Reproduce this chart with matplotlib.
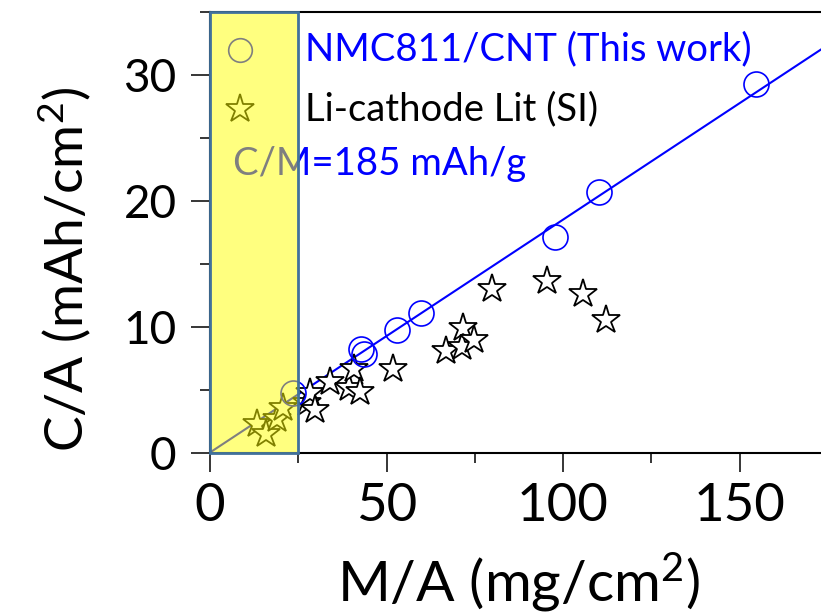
import matplotlib
matplotlib.use("Agg")
import matplotlib.pyplot as plt
from matplotlib.patches import Rectangle
from matplotlib.ticker import MultipleLocator
import numpy as np

plt.rcParams["font.family"] = ["Lato", "DejaVu Sans"]
plt.rcParams["mathtext.fontset"] = "custom"
plt.rcParams["mathtext.rm"] = "Lato"
plt.rcParams["mathtext.it"] = "Lato"
plt.rcParams["mathtext.default"] = "regular"

# NMC811/CNT electrodes (this work)
nmc_x = [23.5, 42.8, 43.5, 52.9, 59.7, 97.7, 110.2, 154.7]
nmc_y = [4.7, 8.2, 7.8, 9.7, 11.1, 17.1, 20.7, 29.3]

# Li-ion cathodes reported in the literature
lit_x = [13.2, 16.0, 18.9, 20.8, 27.4, 28.3, 29.7, 34.0, 39.5, 40.8,
         42.5, 51.7, 66.8, 71.3, 71.8, 74.8, 79.8, 95.6, 105.8, 112.2]
lit_y = [2.3, 1.5, 2.7, 3.5, 3.9, 4.7, 3.4, 5.6, 5.1, 6.65,
         4.8, 6.65, 8.1, 8.4, 9.9, 8.9, 13.0, 13.6, 12.6, 10.5]

# specific capacity of the fit line, mAh/g
specific_capacity = 185
fit_x = np.array([0.0, 175.0])

xlim = (0, 175)
ylim = (0, 35)
x_major, x_minor = 50, 25
y_major, y_minor = 10, 5
highlight_x = (0, 25)

label_nmc = "NMC811/CNT (This work)"
label_lit = "Li-cathode Lit (SI)"
label_fit = "C/M=185 mAh/g"

blue = "#0000FF"

fig = plt.figure(figsize=(8.21, 6.14), dpi=100)
ax = fig.add_axes([210 / 821, (614 - 452.5) / 614, 617.75 / 821, 440.5 / 614])

ax.plot(fit_x, fit_x * specific_capacity / 1000.0, color=blue, lw=1.5, zorder=2)
ax.plot(lit_x, lit_y, linestyle="none", marker="*", ms=21, mfc="white",
        mec="black", mew=1.3, zorder=3)
ax.plot(nmc_x, nmc_y, linestyle="none", marker="o", ms=18, mfc="none",
        mec=blue, mew=1.2, zorder=4)

# in-axes legend
ax.plot([8.5], [32.0], linestyle="none", marker="o", ms=17, mfc="none",
        mec=blue, mew=1.2, zorder=4, clip_on=False)
ax.plot([8.5], [27.3], linestyle="none", marker="*", ms=21, mfc="white",
        mec="black", mew=1.3, zorder=4, clip_on=False)
ax.text(27.0, 32.0, label_nmc, color=blue, fontsize=27.5, ha="left", va="center")
ax.text(27.0, 27.3, label_lit, color="black", fontsize=27.5, ha="left", va="center")
ax.text(6.5, 22.9, label_fit, color=blue, fontsize=27.5, ha="left", va="center")

# highlighted low-loading region
ax.add_patch(Rectangle((highlight_x[0], ylim[0]), highlight_x[1] - highlight_x[0],
                       ylim[1] - ylim[0], facecolor=(1, 1, 0, 0.5),
                       edgecolor="#41719C", lw=2.0, zorder=10, clip_on=False))

ax.set_xlim(*xlim)
ax.set_ylim(*ylim)
ax.xaxis.set_major_locator(MultipleLocator(x_major))
ax.xaxis.set_minor_locator(MultipleLocator(x_minor))
ax.yaxis.set_major_locator(MultipleLocator(y_major))
ax.yaxis.set_minor_locator(MultipleLocator(y_minor))

for side in ["top", "bottom", "left"]:
    ax.spines[side].set_linewidth(1.5)
    ax.spines[side].set_color("black")
ax.spines["right"].set_visible(False)

ax.tick_params(which="both", direction="out", top=False, right=False, width=1.1)
ax.tick_params(which="major", length=14)
ax.tick_params(which="minor", length=7)
ax.tick_params(axis="x", which="major", labelsize=38, pad=8)
ax.tick_params(axis="y", which="major", labelsize=33, pad=10)

ax.set_xlabel("M/A (mg/cm$^2$)", fontsize=41)
ax.xaxis.set_label_coords(0.5, -0.222)
ax.set_ylabel("C/A (mAh/cm$^2$)", fontsize=38.5)
ax.yaxis.set_label_coords(-0.19, 0.4166)

fig.savefig("out.png", dpi=100)
